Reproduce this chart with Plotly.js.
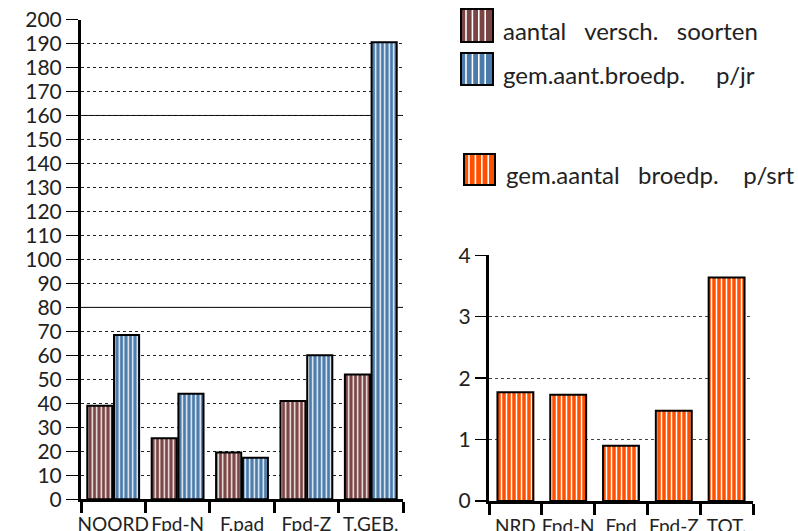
<!DOCTYPE html>
<html>
<head>
<meta charset="utf-8">
<script src="https://cdn.plot.ly/plotly-3.0.1.min.js"></script>
<style>
html,body{margin:0;padding:0;background:#fff;}
#chart{width:798px;height:531px;}
</style>
</head>
<body>
<div id="chart"></div>
<script>
// ---- data ----
const categoriesLeft = ['NOORD', 'Fpd-N', 'F.pad', 'Fpd-Z', 'T.GEB.'];
const aantalSoorten = [39, 25.5, 19.5, 41, 52];
const broedpPerJaar = [68.5, 44, 17.3, 60, 190.5];

const categoriesRight = ['NRD', 'Fpd-N', 'Fpd', 'Fpd-Z', 'TOT.'];
const broedpPerSoort = [1.77, 1.73, 0.9, 1.47, 3.64];

const NB = '\u00a0';
const legendLabels = [
  'aantal' + NB.repeat(3) + 'versch.' + NB.repeat(3) + 'soorten',
  'gem.aant.broedp.' + NB.repeat(5) + 'p/jr',
  'gem.aantal' + NB.repeat(3) + 'broedp.' + NB.repeat(4) + 'p/srt'
];
const colBrown = '#7b4444';
const colBlue = '#4a7bab';
const colOrange = '#ff5000';

// ---- layout helpers ----
const W = 798, H = 531;
const px = x => x / W;
const py = y => 1 - y / H;
const FONT = 'Lato, "Open Sans", sans-serif';

function pat(bg, size, sol) {
  return {shape: '|', bgcolor: bg, fgcolor: '#ffffff', size: size, solidity: sol, fillmode: 'replace'};
}

const traces = [
  {type: 'bar', name: 'aantal versch. soorten', x: categoriesLeft, y: aantalSoorten, xaxis: 'x', yaxis: 'y',
   marker: {color: colBrown, pattern: pat(colBrown, 4.5, 0.3), line: {color: '#000', width: 2}}},
  {type: 'bar', name: 'gem.aant.broedp. p/jr', x: categoriesLeft, y: broedpPerJaar, xaxis: 'x', yaxis: 'y',
   marker: {color: colBlue, pattern: pat(colBlue, 4.5, 0.3), line: {color: '#000', width: 2}}},
  {type: 'bar', name: 'gem.aantal broedp. p/srt', x: categoriesRight, y: broedpPerSoort, xaxis: 'x2', yaxis: 'y2',
   width: 0.68,
   marker: {color: colOrange, pattern: pat(colOrange, 5, 0.3), line: {color: '#000', width: 2}}}
];

// legend swatches (decoration)
const shapes = [];
const annotations = [];
const swatches = [
  {x0: 461, x1: 493, y0: 9, y1: 42, c: colBrown, ty: 30, tx: 501},
  {x0: 461, x1: 493, y0: 53, y1: 85, c: colBlue, ty: 74, tx: 501},
  {x0: 464, x1: 495, y0: 154, y1: 185, c: colOrange, ty: 174, tx: 504}
];
swatches.forEach((s, i) => {
  shapes.push({type: 'rect', xref: 'paper', yref: 'paper', x0: px(s.x0), x1: px(s.x1), y0: py(s.y1), y1: py(s.y0),
    fillcolor: s.c, line: {width: 0}});
  for (let xx = s.x0 + 5; xx < s.x1 - 2; xx += 6.4) {
    shapes.push({type: 'line', xref: 'paper', yref: 'paper', x0: px(xx), x1: px(xx), y0: py(s.y1), y1: py(s.y0),
      line: {color: '#fff', width: 1.6}});
  }
  shapes.push({type: 'rect', xref: 'paper', yref: 'paper', x0: px(s.x0), x1: px(s.x1), y0: py(s.y1), y1: py(s.y0),
    fillcolor: 'rgba(0,0,0,0)', line: {color: '#000', width: 2}});
  annotations.push({xref: 'paper', yref: 'paper', x: px(s.tx), y: py(s.ty), xanchor: 'left', yanchor: 'middle',
    text: legendLabels[i], showarrow: false, font: {family: FONT, size: 24, color: '#222'}});
});

// solid gridlines seen in the reference at 80 and 160
[80, 160].forEach(v => shapes.push({type: 'line', xref: 'x domain', yref: 'y', x0: 0, x1: 1, y0: v, y1: v,
  layer: 'below', line: {color: '#000', width: 1}}));

const xTickFont = {family: FONT, size: 19, color: '#222'};
const yTickFont = {family: FONT, size: 21, color: '#222'};

const layout = {
  width: W, height: H,
  margin: {l: 0, r: 0, t: 0, b: 0},
  paper_bgcolor: '#fff', plot_bgcolor: '#fff',
  showlegend: false,
  barmode: 'group',
  bargap: 0.17,
  bargroupgap: 0.06,
  font: {family: FONT, size: 18, color: '#222'},
  xaxis: {domain: [px(81), px(403)], anchor: 'y', type: 'category', tickangle: 0, ticklabelstandoff: 6,
    showline: true, linecolor: '#000', linewidth: 3, showgrid: false,
    ticks: 'outside', tickson: 'boundaries', ticklen: 11, tickwidth: 3, tickcolor: '#000',
    tickfont: xTickFont, automargin: false},
  yaxis: {domain: [py(499.3), py(19.5)], anchor: 'x', range: [0, 200], dtick: 10,
    showline: true, linecolor: '#000', linewidth: 3, zeroline: false,
    showgrid: true, gridcolor: '#222', gridwidth: 1, griddash: '3px,3px',
    ticks: 'outside', ticklen: 12, tickwidth: 1.5, tickcolor: '#000',
    tickfont: yTickFont, automargin: false},
  xaxis2: {domain: [px(489), px(753)], anchor: 'y2', type: 'category', tickangle: 0, ticklabelstandoff: 6,
    showline: true, linecolor: '#000', linewidth: 3, showgrid: false,
    ticks: 'outside', tickson: 'boundaries', ticklen: 11, tickwidth: 3, tickcolor: '#000',
    tickfont: xTickFont, automargin: false},
  yaxis2: {domain: [py(501), py(255.3)], anchor: 'x2', range: [0, 4], dtick: 1,
    showline: true, linecolor: '#000', linewidth: 3, zeroline: false,
    showgrid: true, gridcolor: '#444', gridwidth: 1, griddash: '3px,3px',
    ticks: 'outside', ticklen: 11, tickwidth: 1.5, tickcolor: '#000',
    tickfont: yTickFont, automargin: false},
  shapes: shapes,
  annotations: annotations
};

Plotly.newPlot('chart', traces, layout, {staticPlot: true, displayModeBar: false});
</script>
</body>
</html>
